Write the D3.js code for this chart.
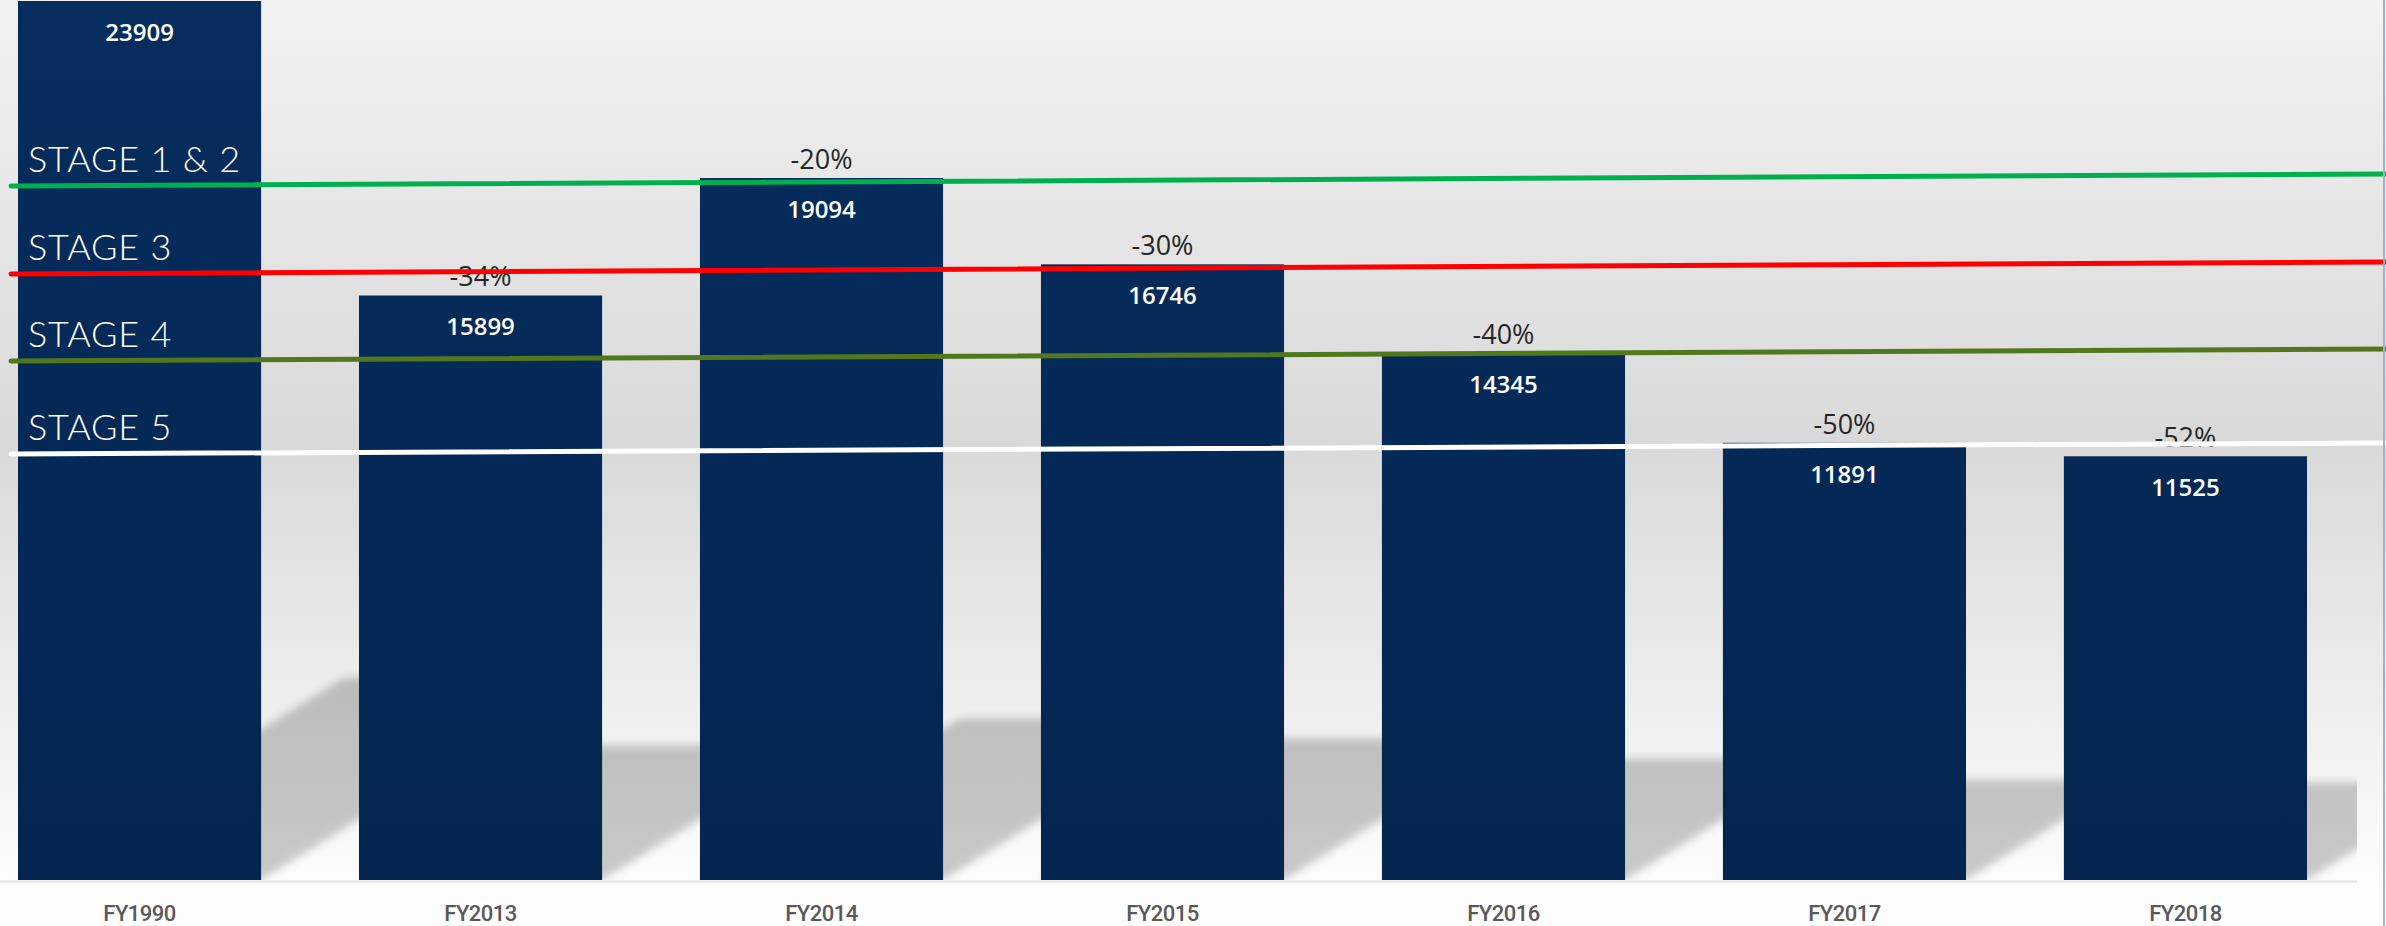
<!DOCTYPE html>
<html>
<head>
<meta charset="utf-8">
<script src="https://cdn.jsdelivr.net/npm/d3@7"></script>
<style>
  html, body { margin: 0; padding: 0; background: #fdfdfd; }
  svg { display: block; }
</style>
</head>
<body>
<div id="app"></div>
<script>
// chart data
const categories = ['FY1990', 'FY2013', 'FY2014', 'FY2015', 'FY2016', 'FY2017', 'FY2018']
const values = [23909, 15899, 19094, 16746, 14345, 11891, 11525]
const pctLabels = ['', '-34%', '-20%', '-30%', '-40%', '-50%', '-52%']

// stage threshold lines (value at left end, value at right end)
const stageNames = ['STAGE 1 & 2', 'STAGE 3', 'STAGE 4', 'STAGE 5']
const stageStart = [18877, 16484, 14117, 11587]
const stageEnd = [19204, 16810, 14443, 11887]
const stageColors = ['#00b050', '#ff0000', '#52781e', '#ffffff']

const width = 2386
const height = 926
const baseY = 880

const svg = d3.select('#app').append('svg')
  .attr('width', width)
  .attr('height', height)

const defs = svg.append('defs')

let bg = defs.append('linearGradient')
  .attr('id', 'bg')
  .attr('gradientUnits', 'userSpaceOnUse')
  .attr('x1', 0).attr('y1', 0).attr('x2', 0).attr('y2', 890)
bg.append('stop').attr('offset', 0).attr('stop-color', '#f2f2f2')
bg.append('stop').attr('offset', 0.5).attr('stop-color', '#d9d9d9')
bg.append('stop').attr('offset', 1).attr('stop-color', '#fdfdfd')

let barGrad = defs.append('linearGradient')
  .attr('id', 'barGrad')
  .attr('gradientUnits', 'userSpaceOnUse')
  .attr('x1', 0).attr('y1', 0).attr('x2', 0).attr('y2', baseY)
barGrad.append('stop').attr('offset', 0).attr('stop-color', '#062d5e')
barGrad.append('stop').attr('offset', 1).attr('stop-color', '#03254f')

defs.append('filter')
  .attr('id', 'blur')
  .attr('x', -0.2).attr('y', -0.2).attr('width', 1.4).attr('height', 1.4)
  .append('feGaussianBlur')
  .attr('stdDeviation', 4)

defs.append('clipPath')
  .attr('id', 'plotClip')
  .append('rect')
  .attr('x', 0).attr('y', 0).attr('width', 2357).attr('height', baseY)

svg.append('rect')
  .attr('width', width)
  .attr('height', height)
  .attr('fill', 'url(#bg)')

// scales
const x = d3.scaleBand()
  .domain(categories)
  .range([18, 2307])
  .paddingInner(0.287)
  .paddingOuter(0)

const y = d3.scaleLinear()
  .domain([0, 23909])
  .range([baseY, 1])

// perspective shadows behind the bars
svg.append('g')
  .attr('clip-path', 'url(#plotClip)')
  .append('g')
  .attr('filter', 'url(#blur)')
  .attr('opacity', 0.2)
  .selectAll('path')
  .data(values)
  .enter()
  .append('path')
  .attr('fill', '#000')
  .attr('d', (v, i) => {
    let x0 = x(categories[i])
    let x1 = x0 + x.bandwidth()
    let hs = (baseY - y(v)) * 0.23
    let dx = hs / 0.62
    return `M${x0},${baseY}L${x1},${baseY}L${x1 + dx},${baseY - hs}L${x0 + dx},${baseY - hs}Z`
  })

// baseline
svg.append('line')
  .attr('x1', 0).attr('x2', 2357)
  .attr('y1', baseY + 1.5).attr('y2', baseY + 1.5)
  .attr('stroke', '#e6e6e6')
  .attr('stroke-width', 2)

// bars
svg.selectAll('.bar')
  .data(values)
  .enter()
  .append('rect')
  .attr('class', 'bar')
  .attr('x', (v, i) => x(categories[i]))
  .attr('y', v => y(v))
  .attr('width', x.bandwidth())
  .attr('height', v => baseY - y(v))
  .attr('fill', 'url(#barGrad)')

// value labels
svg.selectAll('.val')
  .data(values)
  .enter()
  .append('text')
  .attr('class', 'val')
  .attr('x', (v, i) => x(categories[i]) + x.bandwidth() / 2)
  .attr('y', v => y(v) + 40)
  .attr('text-anchor', 'middle')
  .attr('fill', '#ffffff')
  .attr('font-family', '"Open Sans", "Noto Sans", sans-serif')
  .attr('font-weight', 600)
  .attr('font-size', 24)
  .text(v => v)

// percent change labels
svg.selectAll('.pct')
  .data(pctLabels)
  .enter()
  .append('text')
  .attr('class', 'pct')
  .attr('x', (p, i) => x(categories[i]) + x.bandwidth() / 2)
  .attr('y', (p, i) => y(values[i]) - 9)
  .attr('text-anchor', 'middle')
  .attr('fill', '#262626')
  .attr('font-family', '"Open Sans", "Noto Sans", sans-serif')
  .attr('font-size', 27)
  .text(p => p)

// stage lines
let lineX0 = 11
let lineX1 = width
svg.selectAll('.stage')
  .data(stageNames)
  .enter()
  .append('line')
  .attr('class', 'stage')
  .attr('x1', lineX0)
  .attr('x2', lineX1)
  .attr('y1', (s, i) => y(stageStart[i]))
  .attr('y2', (s, i) => y(stageEnd[i]))
  .attr('stroke', (s, i) => stageColors[i])
  .attr('stroke-width', 5)
  .attr('stroke-linecap', 'round')

svg.selectAll('.stageLabel')
  .data(stageNames)
  .enter()
  .append('text')
  .attr('class', 'stageLabel')
  .attr('x', 28)
  .attr('y', (s, i) => y(stageStart[i]) - 14)
  .attr('fill', '#ffffff')
  .attr('font-family', 'Lato, "Open Sans", sans-serif')
  .attr('font-weight', 300)
  .attr('font-size', 36)
  .attr('letter-spacing', 0.8)
  .text(s => s)

// x axis
let axis = svg.append('g')
  .attr('transform', `translate(0, ${baseY})`)
  .call(d3.axisBottom(x).tickSize(0).tickPadding(25))
axis.select('.domain').remove()
axis.selectAll('text')
  .attr('fill', '#595959')
  .attr('font-family', '"Liberation Sans Narrow", "Roboto", sans-serif')
  .attr('font-weight', 500)
  .attr('font-size', 22)
  .attr('letter-spacing', -0.5)

// slide edge
svg.append('line')
  .attr('x1', 2384).attr('x2', 2384)
  .attr('y1', 0).attr('y2', height)
  .attr('stroke', '#9fb3c8')
  .attr('stroke-width', 2)
</script>
</body>
</html>
